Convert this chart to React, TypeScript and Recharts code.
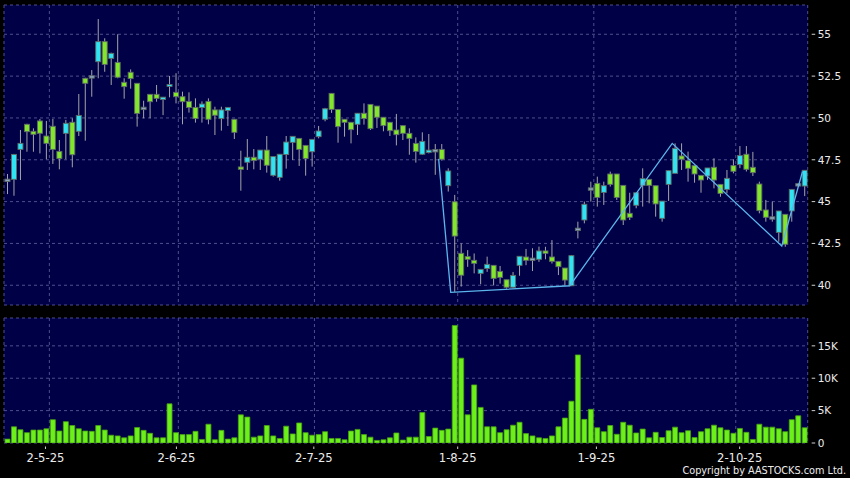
import React from 'react';
import { ComposedChart, Bar, Line, XAxis, YAxis, CartesianGrid } from 'recharts';

// ---- data ----
const opens = [46.27,46.33,48.12,49.62,49.20,49.82,48.92,49.50,48.00,49.08,
 49.74,49.20,52.37,52.45,53.36,54.56,53.56,53.32,52.13,52.73,
 52.07,50.57,51.41,51.41,51.12,51.88,51.53,51.27,50.99,50.63,
 50.62,50.99,50.48,49.96,50.44,49.92,47.05,47.35,47.65,47.53,
 48.08,46.57,46.45,47.81,48.54,48.78,48.36,47.98,48.88,49.92,
 51.47,50.51,49.92,49.74,49.62,50.28,50.81,50.71,50.04,49.74,
 49.28,49.54,49.08,48.48,47.83,47.95,48.04,48.12,45.95,44.99,
 41.91,41.71,41.49,40.71,41.00,41.19,40.83,40.33,39.88,41.19,
 41.69,41.55,41.55,42.03,41.69,41.43,41.03,39.97,43.34,43.90,
 45.75,46.09,45.55,46.65,46.65,45.97,44.30,44.78,45.97,46.33,
 45.95,44.00,46.03,46.69,47.73,47.45,47.15,46.57,46.53,47.05,
 46.03,45.73,47.15,47.21,47.83,47.05,46.05,44.50,44.02,43.16,
 44.24,44.44,46.00,45.93];
const highs = [46.65,47.85,49.28,49.65,49.38,49.94,49.82,49.94,48.68,49.88,
 49.98,51.43,52.40,52.86,55.91,54.76,53.90,55.00,52.37,52.90,
 52.07,51.03,51.41,51.97,51.23,52.51,52.67,51.57,51.53,51.17,
 50.99,51.17,50.67,50.67,50.63,49.92,48.04,48.74,48.14,48.08,
 48.92,47.69,47.83,48.92,48.90,48.78,48.36,48.72,49.52,50.60,
 51.47,50.51,49.92,49.74,50.28,50.87,50.81,50.71,50.04,49.74,
 50.24,49.54,49.38,48.84,49.14,49.04,48.44,48.44,46.99,45.40,
 42.50,42.10,41.90,40.95,41.71,41.19,41.15,40.33,40.79,41.73,
 42.17,42.21,42.31,42.30,42.70,41.43,41.03,41.81,43.80,45.00,
 46.19,46.49,46.19,46.79,46.65,45.97,45.53,45.53,46.99,46.33,
 45.95,45.03,46.85,48.48,48.48,47.99,47.15,46.57,47.01,47.59,
 46.03,46.89,47.53,48.32,48.32,47.97,46.19,45.10,45.00,44.44,
 44.24,45.73,46.10,46.87];
const lows = [45.45,45.35,46.29,47.98,47.98,47.88,47.53,47.25,46.93,47.53,
 47.05,48.92,48.64,51.27,52.37,52.76,51.97,52.37,51.15,51.75,
 49.48,49.98,49.98,50.97,50.17,51.23,50.87,49.62,50.32,49.72,
 49.72,49.62,48.98,49.24,49.52,48.74,45.65,46.89,46.93,46.89,
 46.73,46.49,46.25,46.97,47.49,47.13,46.55,47.09,48.78,49.80,
 50.30,48.52,48.88,48.48,48.98,49.60,49.28,49.40,49.20,48.92,
 48.36,48.68,47.80,47.33,47.79,47.88,46.60,47.45,45.60,39.60,
 39.92,41.10,40.71,40.06,40.80,39.99,40.10,39.80,39.85,40.57,
 41.20,40.85,41.40,41.55,41.30,40.61,40.00,39.95,42.80,43.70,
 45.00,44.70,44.80,45.90,45.10,43.60,43.90,44.60,44.70,44.90,
 44.10,43.80,45.04,46.69,46.89,46.19,46.13,45.53,46.30,45.79,
 45.29,45.49,46.69,47.00,46.80,46.53,44.30,43.80,43.80,42.60,
 42.30,43.80,45.90,45.33];
const closes = [46.27,47.82,48.48,49.18,49.02,49.08,48.48,48.12,47.57,49.68,
 47.80,50.15,52.07,52.45,54.56,53.20,53.86,52.43,51.87,52.35,
 50.27,50.57,50.97,51.17,51.22,52.00,51.27,50.97,50.62,49.96,
 50.83,49.92,50.16,50.48,50.63,49.14,46.95,47.65,47.45,48.08,
 47.17,47.69,47.83,48.56,48.90,48.12,47.57,48.72,49.22,50.55,
 50.51,49.48,49.74,49.30,50.28,49.96,49.36,50.04,49.54,49.24,
 49.00,49.08,48.78,48.00,48.60,48.06,48.04,47.53,46.83,42.94,
 40.60,41.55,41.31,40.95,41.25,40.41,40.47,39.88,40.59,41.73,
 41.49,41.55,42.05,41.93,41.43,41.11,40.31,41.77,43.34,44.84,
 45.75,45.25,45.95,46.03,45.25,43.90,44.06,45.53,46.37,45.97,
 44.86,45.03,46.85,48.18,47.53,46.99,46.65,46.29,47.01,46.29,
 45.49,46.39,46.81,47.75,46.93,46.73,44.46,44.06,44.02,44.44,
 42.45,45.73,46.00,46.87];
// volume in thousands
const volumesK = [0.6,2.5,2.05,1.6,2.0,2.0,2.2,3.6,1.85,3.3,2.7,2.2,1.85,1.8,2.7,2.0,1.2,1.1,0.8,1.1,
 2.4,1.95,1.5,0.8,0.8,6.05,1.6,1.3,1.3,1.8,0.55,2.9,0.5,1.95,0.6,0.8,4.35,4.0,0.9,1.1,
 2.7,1.1,0.7,2.6,1.4,3.1,1.6,1.2,1.3,1.75,0.7,0.7,0.5,1.85,2.1,1.3,0.9,0.4,0.5,0.8,
 1.55,0.45,0.9,0.9,4.7,1.0,2.3,1.95,2.15,18.15,13.1,4.35,8.97,5.5,2.5,2.5,1.6,2.05,2.75,3.2,
 1.45,1.1,0.8,0.7,1.1,2.5,3.85,6.45,13.6,3.65,5.2,2.35,1.75,2.7,1.35,3.2,2.75,1.55,2.15,0.8,
 1.65,0.85,1.9,2.45,1.6,1.9,0.85,1.75,2.2,2.75,2.35,2.0,1.5,2.25,1.65,0.55,2.9,2.45,2.45,2.2,
 1.75,3.6,4.2,2.35];
const zigX = [66.56, 68.42, 86.79, 102.6, 119.5, 122.7];
const zigP = [47.55, 39.58, 39.97, 48.48, 42.35, 46.8];
const priceTicks = [40, 42.5, 45, 47.5, 50, 52.5, 55];
const volumeTicks = [0, 5000, 10000, 15000];
const volumeTickLabels = ['0', '5K', '10K', '15K'];
const dateLabels = ['2-5-25', '2-6-25', '2-7-25', '1-8-25', '1-9-25', '2-10-25'];
const dateLabelPos = [5.9, 26.1, 47.3, 69.5, 90.9, 113.0];
const dateGridPos = [6.5, 26.4, 47.4, 69.5, 90.5, 112.4];

const priceRows = opens.map((o, i) => ({ i, o, h: highs[i], l: lows[i], c: closes[i], range: [lows[i], highs[i]] }));
const volRows = volumesK.map((v, i) => ({ i, v: v * 1000 }));
const zigRows = zigX.map((x, k) => ({ i: x, z: zigP[k] }));

const BG = '#000046';
const GRID = '#4e4e8e';
const TXT = '#ececec';
const FONT = 'DejaVu Sans';
const X_DOMAIN: [number, number] = [-0.5, 123.5];

function Candle(props: any) {
  const { x, y, width, height, payload } = props;
  if (x == null || y == null || !payload) return null;
  const top = Math.min(y, y + height);
  const span = Math.abs(height);
  const { o, h, l, c } = payload;
  const ppu = h - l > 0 ? span / (h - l) : 0;
  const py = (v: number) => top + (h - v) * ppu;
  let bt = py(Math.max(o, c));
  let bb = py(Math.min(o, c));
  if (bb - bt < 2) {
    const mid = (bt + bb) / 2;
    bt = mid - 1.2;
    bb = mid + 1.2;
  }
  const fill = c === o ? '#8ea6c2' : c > o ? '#2fe3f2' : '#82e62a';
  const cx = x + width / 2;
  return (
    <g>
      <line x1={cx} x2={cx} y1={top} y2={top + span} stroke="#a4a4a8" strokeWidth={1} />
      <rect x={x} y={bt} width={width} height={bb - bt} fill={fill} stroke="#5d6a66" strokeWidth={0.9} />
    </g>
  );
}

function PriceTick(props: any) {
  const { x, y, payload } = props;
  return (
    <g>
      <line x1={x + 4} x2={x + 7.5} y1={y} y2={y} stroke="#cfcfcf" strokeWidth={1} />
      <text x={x + 10} y={y} dy={3.8} fill={TXT} fontSize={10.5} fontFamily={FONT}>{String(payload.value)}</text>
    </g>
  );
}

function VolTick(props: any) {
  const { x, y, payload } = props;
  const k = volumeTicks.indexOf(payload.value);
  return (
    <g>
      <line x1={x + 4} x2={x + 7.5} y1={y} y2={y} stroke="#cfcfcf" strokeWidth={1} />
      <text x={x + 10} y={y} dy={3.8} fill={TXT} fontSize={10.5} fontFamily={FONT}>{volumeTickLabels[k]}</text>
    </g>
  );
}

function DateTick(props: any) {
  const { x, y, payload } = props;
  const k = dateLabelPos.indexOf(payload.value);
  return (
    <g>
      <line x1={x} x2={x} y1={y + 3.5} y2={y + 6} stroke="#cfcfcf" strokeWidth={1} />
      <text x={x} y={y + 18.5} textAnchor="middle" fill={TXT} fontSize={11.6} fontFamily={FONT}>{dateLabels[k]}</text>
    </g>
  );
}

export default function App() {
  return (
    <div style={{ position: 'absolute', left: 0, top: 0, width: 850, height: 478, background: '#000', overflow: 'hidden' }}>
      <div style={{ position: 'absolute', left: 0, top: 0 }}>
        <ComposedChart width={850} height={310} data={priceRows} margin={{ top: 5, right: 0, bottom: 5, left: 4 }}>
          <CartesianGrid fill={BG} stroke={GRID} strokeDasharray="3 3" />
          <XAxis dataKey="i" type="number" domain={X_DOMAIN} allowDataOverflow ticks={dateGridPos} interval={0} hide height={0} />
          <XAxis xAxisId="zig" dataKey="i" type="number" domain={X_DOMAIN} allowDataOverflow hide height={0} />
          <YAxis orientation="right" type="number" domain={[38.82, 56.75]} allowDataOverflow ticks={priceTicks}
            interval={0} width={42.3} axisLine={false} tickLine={false} tickSize={0} tickMargin={0} tick={<PriceTick />} />
          <Bar dataKey="range" barSize={5} shape={<Candle />} isAnimationActive={false} />
          <Line xAxisId="zig" data={zigRows} dataKey="z" type="linear" stroke="#5cb6ec" strokeWidth={1.3} dot={false} activeDot={false} isAnimationActive={false} />
        </ComposedChart>
      </div>
      <div style={{ position: 'absolute', left: 0, top: 310 }}>
        <ComposedChart width={850} height={168} data={volRows} margin={{ top: 8, right: 0, bottom: 0, left: 4 }}>
          <CartesianGrid fill={BG} stroke={GRID} strokeDasharray="3 3" xAxisId="grid" />
          <XAxis xAxisId="lab" dataKey="i" type="number" domain={X_DOMAIN} allowDataOverflow ticks={dateLabelPos} interval={0}
            height={35} axisLine={false} tickLine={false} tickSize={0} tickMargin={0} tick={<DateTick />} />
          <XAxis xAxisId="grid" dataKey="i" type="number" domain={X_DOMAIN} allowDataOverflow ticks={dateGridPos} interval={0} hide height={0} />
          <YAxis orientation="right" type="number" domain={[0, 19300]} allowDataOverflow ticks={volumeTicks}
            interval={0} width={42.3} axisLine={false} tickLine={false} tickSize={0} tickMargin={0} tick={<VolTick />} />
          <Bar xAxisId="lab" dataKey="v" barSize={5} fill="#6cf01a" stroke="#47a012" strokeWidth={0.8} isAnimationActive={false} />
        </ComposedChart>
      </div>
      <div style={{ position: 'absolute', right: 4, top: 465, color: TXT, fontFamily: 'DejaVu Sans Condensed, DejaVu Sans', fontSize: 10.8, whiteSpace: 'nowrap', lineHeight: '11px' }}>
        Copyright by AASTOCKS.com Ltd.
      </div>
    </div>
  );
}
